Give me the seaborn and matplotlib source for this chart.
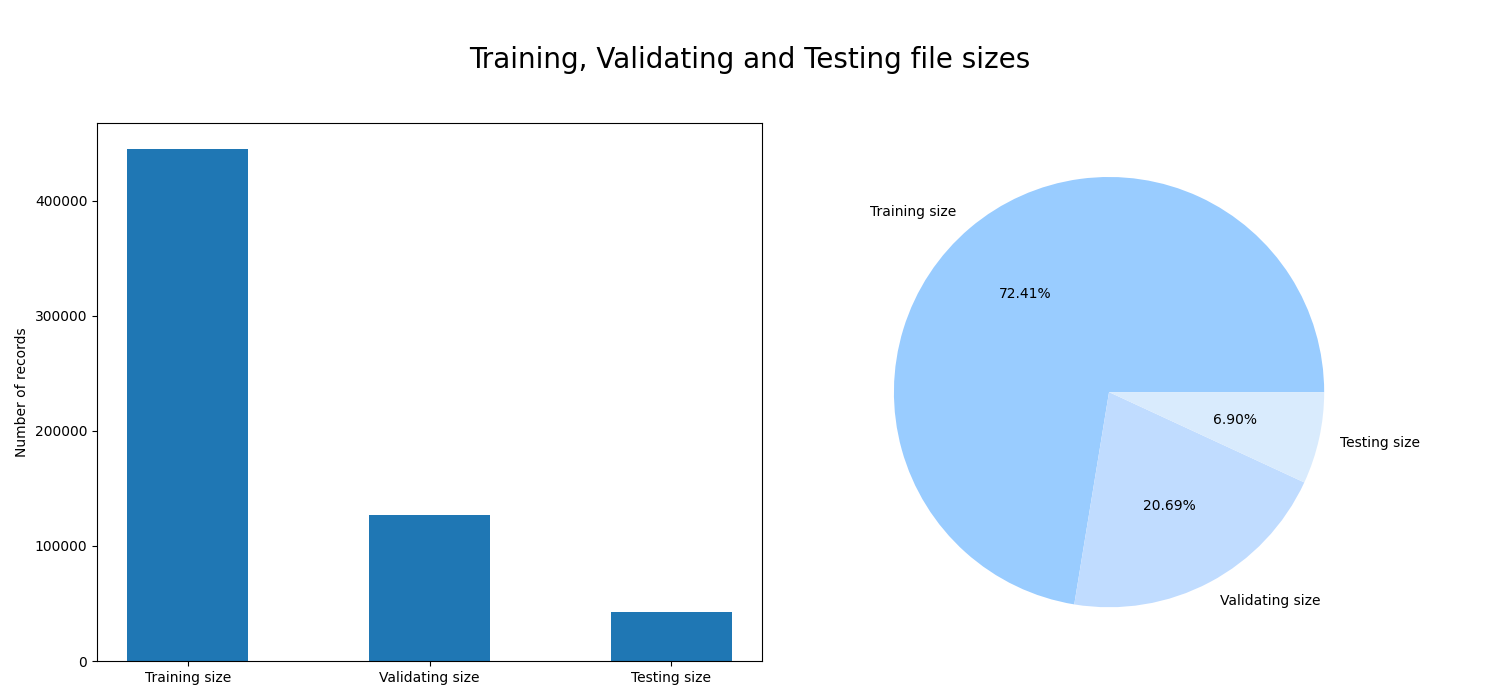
import numpy as np
import pandas as pd
import matplotlib
matplotlib.use("Agg")
import matplotlib.pyplot as plt
import seaborn as sns

# Data
labels = ["Training size", "Validating size", "Testing size"]
sizes = [445200, 127200, 42400]
pie_colors = ["#99ccff", "#c0dcff", "#d9ebfd"]

df = pd.DataFrame({"set": labels, "records": sizes})

sns.set_style("ticks", rc={"text.color": "black", "axes.labelcolor": "black",
                           "xtick.color": "black", "ytick.color": "black",
                           "axes.edgecolor": "black", "patch.edgecolor": "none"})
plt.rcParams["font.family"] = ["DejaVu Sans"]

fig, (ax1, ax2) = plt.subplots(1, 2, figsize=(15, 7), dpi=100)
fig.subplots_adjust(left=0.0647, right=0.961, bottom=0.0557, top=0.824, wspace=0.022)

# Bar chart
sns.barplot(data=df, x="set", y="records", color="#1f77b4", saturation=1,
            width=0.5, linewidth=0, ax=ax1)
ax1.set_xlim(-0.375, 2.375)
ax1.set_xlabel("")
ax1.set_ylabel("Number of records")
ax1.set_yticks([0, 100000, 200000, 300000, 400000])
ax1.set_yticklabels(["0", "100000", "200000", "300000", "400000"])
for spine in ax1.spines.values():
    spine.set_visible(True)
    spine.set_color("black")
    spine.set_linewidth(0.8)
ax1.tick_params(direction="out", length=3.5, width=0.8, colors="black", labelsize=10)

# Pie chart
ax2.pie(df["records"], labels=df["set"], colors=pie_colors, autopct="%1.2f%%",
        wedgeprops={"linewidth": 0, "edgecolor": "none"},
        textprops={"fontsize": 10, "color": "black"})
ax2.set_aspect("equal")

fig.suptitle("Training, Validating and Testing file sizes", fontsize=20, y=0.935,
             color="black")

plt.savefig("out.png", dpi=100)
